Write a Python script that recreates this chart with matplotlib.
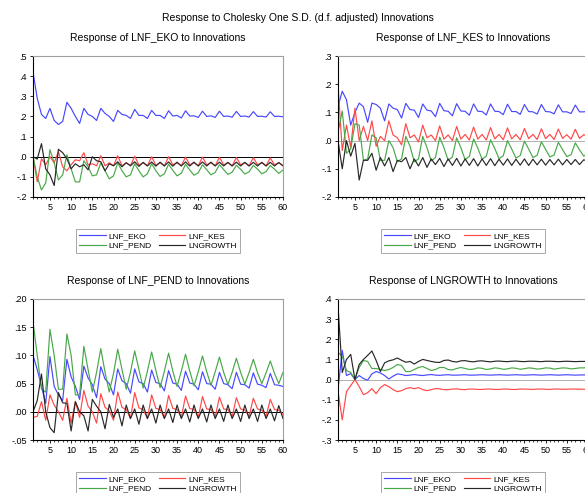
import matplotlib
matplotlib.use("Agg")
import matplotlib.pyplot as plt
import numpy as np

plt.rcParams['font.family'] = ['Liberation Sans', 'DejaVu Sans']

periods = list(range(1, 61))
series_names = ["LNF_EKO", "LNF_KES", "LNF_PEND", "LNGROWTH"]
main_title = "Response to Cholesky One S.D. (d.f. adjusted) Innovations"
panel_titles = ["Response of LNF_EKO to Innovations", "Response of LNF_KES to Innovations",
                "Response of LNF_PEND to Innovations", "Response of LNGROWTH to Innovations"]

# ---- Panel 1: response of LNF_EKO ----
eko_eko = [0.42, 0.29, 0.21, 0.19, 0.24, 0.18, 0.16, 0.175,
           0.27, 0.24, 0.20, 0.165, 0.24, 0.21, 0.20, 0.18,
           0.24, 0.215, 0.20, 0.175, 0.23, 0.21, 0.205, 0.19,
           0.235, 0.205, 0.205, 0.19, 0.23, 0.205, 0.205, 0.19,
           0.228, 0.202, 0.205, 0.192, 0.228, 0.202, 0.203, 0.195,
           0.226, 0.200, 0.203, 0.195, 0.226, 0.200, 0.202, 0.196,
           0.225, 0.200, 0.202, 0.197, 0.224, 0.200, 0.201, 0.197,
           0.223, 0.200, 0.201, 0.198]
eko_kes = [0.0, -0.125, -0.01, -0.04, 0.0, -0.03, 0.025, -0.05,
           -0.07, -0.04, -0.015, -0.02, 0.02, -0.04, -0.035, -0.045,
           0.005, -0.045, -0.03, -0.045, 0.005, -0.045, -0.03, -0.045,
           0.003, -0.042, -0.03, -0.045, 0.0, -0.042, -0.03, -0.045,
           0.0, -0.04, -0.03, -0.045, -0.002, -0.04, -0.03, -0.045,
           -0.002, -0.04, -0.03, -0.045, -0.003, -0.04, -0.03, -0.045,
           -0.004, -0.04, -0.03, -0.045, -0.005, -0.04, -0.03, -0.045,
           -0.006, -0.04, -0.03, -0.045]
eko_pend = [0.0, -0.10, -0.165, -0.13, 0.035, -0.03, -0.115, -0.09,
            0.01, -0.06, -0.125, -0.125, -0.02, -0.05, -0.095, -0.09,
            -0.03, -0.07, -0.11, -0.095, -0.03, -0.07, -0.10, -0.09,
            -0.035, -0.07, -0.10, -0.085, -0.035, -0.07, -0.098, -0.085,
            -0.037, -0.068, -0.095, -0.082, -0.038, -0.066, -0.092, -0.08,
            -0.04, -0.065, -0.09, -0.078, -0.04, -0.064, -0.088, -0.077,
            -0.042, -0.063, -0.086, -0.075, -0.043, -0.062, -0.085, -0.074,
            -0.044, -0.062, -0.083, -0.066]
eko_growth = [0.0, -0.012, 0.065, -0.06, -0.09, -0.143, 0.037, 0.02,
              -0.01, -0.06, -0.035, -0.05, -0.04, -0.065, 0.0, -0.02,
              -0.025, -0.07, -0.035, -0.045, -0.025, -0.05, -0.03, -0.045,
              -0.025, -0.048, -0.028, -0.046, -0.026, -0.047, -0.027, -0.046,
              -0.026, -0.047, -0.027, -0.046, -0.026, -0.046, -0.027, -0.046,
              -0.026, -0.046, -0.027, -0.046, -0.027, -0.046, -0.028, -0.046,
              -0.027, -0.046, -0.028, -0.046, -0.028, -0.046, -0.028, -0.046,
              -0.028, -0.046, -0.029, -0.045]

# ---- Panel 2: response of LNF_KES ----
kes_eko = [0.12, 0.175, 0.145, 0.055, 0.10, 0.133, 0.12, 0.065,
           0.133, 0.128, 0.115, 0.07, 0.13, 0.115, 0.11, 0.08,
           0.132, 0.11, 0.108, 0.082, 0.13, 0.108, 0.105, 0.085,
           0.132, 0.106, 0.104, 0.088, 0.131, 0.105, 0.104, 0.09,
           0.13, 0.104, 0.103, 0.091, 0.13, 0.104, 0.103, 0.092,
           0.129, 0.103, 0.103, 0.093, 0.128, 0.103, 0.102, 0.094,
           0.128, 0.103, 0.102, 0.095, 0.127, 0.102, 0.102, 0.096,
           0.126, 0.102, 0.102, 0.104]
kes_kes = [0.2, -0.035, 0.055, -0.025, 0.115, 0.0, 0.05, 0.0,
           0.07, -0.02, 0.015, 0.0, 0.07, 0.02, 0.01, -0.015,
           0.06, 0.01, 0.02, -0.005, 0.055, 0.01, 0.02, 0.0,
           0.052, 0.005, 0.02, 0.0, 0.05, 0.005, 0.022, 0.002,
           0.048, 0.005, 0.022, 0.002, 0.046, 0.006, 0.022, 0.003,
           0.045, 0.006, 0.022, 0.003, 0.043, 0.007, 0.022, 0.004,
           0.042, 0.007, 0.022, 0.004, 0.041, 0.008, 0.021, 0.005,
           0.04, 0.008, 0.021, 0.015]
kes_pend = [0.03, 0.105, -0.045, -0.03, 0.06, 0.055, -0.07, -0.065,
            0.02, 0.01, -0.07, -0.07, 0.0, -0.025, -0.075, -0.065,
            0.015, -0.02, -0.075, -0.065, 0.015, -0.025, -0.072, -0.06,
            0.012, -0.025, -0.07, -0.058, 0.01, -0.025, -0.068, -0.056,
            0.006, -0.027, -0.066, -0.055, 0.003, -0.028, -0.064, -0.054,
            0.0, -0.03, -0.062, -0.053, -0.002, -0.03, -0.06, -0.052,
            -0.004, -0.031, -0.058, -0.051, -0.006, -0.032, -0.057, -0.05,
            -0.008, -0.033, -0.055, -0.045]
kes_growth = [0.0, -0.1, 0.0, -0.055, -0.01, -0.14, -0.07, -0.07,
              -0.045, -0.105, -0.06, -0.09, -0.06, -0.11, -0.07, -0.075,
              -0.06, -0.1, -0.065, -0.09, -0.06, -0.095, -0.065, -0.085,
              -0.063, -0.092, -0.065, -0.088, -0.063, -0.09, -0.065, -0.088,
              -0.064, -0.09, -0.065, -0.088, -0.064, -0.089, -0.066, -0.087,
              -0.065, -0.088, -0.066, -0.087, -0.065, -0.088, -0.066, -0.086,
              -0.066, -0.087, -0.067, -0.086, -0.066, -0.086, -0.067, -0.085,
              -0.067, -0.085, -0.068, -0.074]

# ---- Panel 3: response of LNF_PEND ----
pend_eko = [0.10, 0.075, 0.045, 0.015, 0.098, 0.045, 0.03, 0.02,
            0.093, 0.062, 0.045, 0.022, 0.081, 0.06, 0.048, 0.025,
            0.08, 0.058, 0.05, 0.03, 0.076, 0.055, 0.05, 0.033,
            0.076, 0.053, 0.05, 0.035, 0.074, 0.052, 0.05, 0.037,
            0.073, 0.051, 0.049, 0.038, 0.072, 0.051, 0.049, 0.039,
            0.071, 0.05, 0.049, 0.04, 0.07, 0.05, 0.048, 0.041,
            0.07, 0.049, 0.048, 0.042, 0.069, 0.049, 0.047, 0.043,
            0.068, 0.048, 0.047, 0.045]
pend_kes = [-0.01, -0.008, 0.018, -0.015, 0.03, 0.012, 0.0, -0.015,
            0.024, -0.02, 0.018, -0.01, 0.038, 0.01, 0.0, -0.02,
            0.032, 0.008, 0.002, -0.015, 0.035, 0.008, 0.004, -0.012,
            0.034, 0.007, 0.004, -0.012, 0.03, 0.006, 0.004, -0.011,
            0.029, 0.006, 0.004, -0.01, 0.028, 0.006, 0.004, -0.01,
            0.027, 0.005, 0.004, -0.009, 0.026, 0.005, 0.004, -0.009,
            0.025, 0.005, 0.003, -0.008, 0.024, 0.005, 0.003, -0.008,
            0.022, 0.004, 0.003, -0.005]
pend_pend = [0.16, 0.10, 0.04, 0.035, 0.146, 0.10, 0.04, 0.04,
             0.138, 0.10, 0.03, 0.03, 0.116, 0.075, 0.035, 0.07,
             0.112, 0.07, 0.035, 0.068, 0.111, 0.075, 0.04, 0.07,
             0.108, 0.075, 0.042, 0.072, 0.106, 0.073, 0.043, 0.072,
             0.104, 0.072, 0.045, 0.072, 0.102, 0.072, 0.046, 0.071,
             0.099, 0.071, 0.047, 0.071, 0.097, 0.07, 0.048, 0.07,
             0.095, 0.07, 0.049, 0.07, 0.093, 0.069, 0.05, 0.069,
             0.09, 0.068, 0.05, 0.07]
pend_growth = [0.0, 0.02, 0.067, 0.0, -0.028, -0.037, 0.034, 0.016,
               0.015, -0.034, 0.018, 0.0, -0.007, -0.034, 0.022, 0.01,
               0.0, -0.03, 0.013, -0.01, 0.005, -0.025, 0.012, -0.012,
               0.005, -0.022, 0.012, -0.012, 0.005, -0.02, 0.012, -0.012,
               0.005, -0.019, 0.012, -0.012, 0.005, -0.018, 0.012, -0.012,
               0.005, -0.018, 0.012, -0.012, 0.005, -0.017, 0.012, -0.012,
               0.005, -0.017, 0.012, -0.012, 0.005, -0.017, 0.012, -0.012,
               0.005, -0.016, 0.011, -0.012]

# ---- Panel 4: response of LNGROWTH ----
gr_eko = [-0.05, 0.145, 0.02, 0.03, 0.0, 0.02, 0.005, -0.003,
          0.028, 0.04, 0.033, 0.02, 0.003, 0.017, 0.028, 0.025,
          0.02, 0.022, 0.025, 0.022, 0.02, 0.023, 0.025, 0.022,
          0.021, 0.023, 0.024, 0.022, 0.022, 0.023, 0.024, 0.022,
          0.022, 0.023, 0.024, 0.023, 0.022, 0.023, 0.024, 0.023,
          0.022, 0.023, 0.024, 0.023, 0.022, 0.023, 0.024, 0.023,
          0.022, 0.023, 0.024, 0.023, 0.022, 0.023, 0.024, 0.023,
          0.022, 0.023, 0.023, 0.023]
gr_kes = [-0.06, -0.2, -0.06, -0.03, 0.0, -0.035, -0.075, -0.065,
          -0.045, -0.07, -0.04, -0.025, -0.035, -0.05, -0.06, -0.055,
          -0.045, -0.04, -0.045, -0.04, -0.05, -0.055, -0.05, -0.045,
          -0.046, -0.05, -0.05, -0.047, -0.046, -0.049, -0.05, -0.047,
          -0.047, -0.049, -0.049, -0.047, -0.047, -0.049, -0.049, -0.047,
          -0.047, -0.049, -0.049, -0.047, -0.047, -0.048, -0.049, -0.047,
          -0.047, -0.048, -0.049, -0.047, -0.047, -0.048, -0.048, -0.047,
          -0.047, -0.048, -0.048, -0.048]
gr_pend = [0.135, 0.115, 0.045, 0.035, 0.0, 0.06, 0.095, 0.09,
           0.055, 0.055, 0.05, 0.045, 0.05, 0.06, 0.075, 0.07,
           0.04, 0.04, 0.05, 0.06, 0.065, 0.055, 0.045, 0.05,
           0.06, 0.06, 0.05, 0.048, 0.055, 0.06, 0.055, 0.05,
           0.052, 0.058, 0.056, 0.05, 0.053, 0.058, 0.056, 0.051,
           0.053, 0.058, 0.056, 0.051, 0.054, 0.058, 0.056, 0.052,
           0.054, 0.058, 0.057, 0.052, 0.055, 0.058, 0.057, 0.053,
           0.055, 0.058, 0.058, 0.06]
gr_growth = [0.365, 0.035, 0.1, 0.125, 0.0, 0.075, 0.1, 0.12,
             0.142, 0.095, 0.04, 0.083, 0.093, 0.098, 0.107, 0.096,
             0.086, 0.09, 0.077, 0.09, 0.1, 0.095, 0.09, 0.086,
             0.085, 0.095, 0.097, 0.09, 0.087, 0.093, 0.094, 0.09,
             0.088, 0.092, 0.093, 0.09, 0.088, 0.091, 0.092, 0.09,
             0.089, 0.091, 0.092, 0.09, 0.089, 0.091, 0.091, 0.09,
             0.089, 0.091, 0.091, 0.09, 0.089, 0.09, 0.091, 0.09,
             0.089, 0.09, 0.09, 0.09]

panels = [
    (eko_eko, eko_kes, eko_pend, eko_growth),
    (kes_eko, kes_kes, kes_pend, kes_growth),
    (pend_eko, pend_kes, pend_pend, pend_growth),
    (gr_eko, gr_kes, gr_pend, gr_growth),
]
y_limits = [(-0.2, 0.5), (-0.2, 0.3), (-0.05, 0.20), (-0.3, 0.4)]
y_ticks = [
    [-0.2, -0.1, 0.0, 0.1, 0.2, 0.3, 0.4, 0.5],
    [-0.2, -0.1, 0.0, 0.1, 0.2, 0.3],
    [-0.05, 0.0, 0.05, 0.10, 0.15, 0.20],
    [-0.3, -0.2, -0.1, 0.0, 0.1, 0.2, 0.3, 0.4],
]
y_ticklabels = [
    ["-.2", "-.1", ".0", ".1", ".2", ".3", ".4", ".5"],
    ["-.2", "-.1", ".0", ".1", ".2", ".3"],
    ["-.05", ".00", ".05", ".10", ".15", ".20"],
    ["-.3", "-.2", "-.1", ".0", ".1", ".2", ".3", ".4"],
]
x_ticks = [5, 10, 15, 20, 25, 30, 35, 40, 45, 50, 55, 60]
zero_colors = ["black", "#b0b0b0", "black", "#b0b0b0"]
colors = ["#4848ff", "#ff4848", "#48a848", "#282828"]

W, H = 585, 493
fig = plt.figure(figsize=(W / 100, H / 100), dpi=100)

# axes placement in pixels (left, top, right, bottom)
boxes = [(33, 56, 283, 197), (338, 56, 588, 197), (33, 299, 283, 440), (338, 299, 588, 440)]

fig.text(298 / W, 1 - 18 / H, main_title, ha="center", va="center", fontsize=7.5)

for i, (box, data) in enumerate(zip(boxes, panels)):
    l, t, r, b = box
    ax = fig.add_axes([l / W, 1 - b / H, (r - l) / W, (b - t) / H])
    ax.axhline(0, color=zero_colors[i], lw=0.7, zorder=1)
    handles = []
    for s, name, c in zip(data, series_names, colors):
        h, = ax.plot(periods, s, color=c, lw=0.85, label=name, zorder=2)
        handles.append(h)
    ax.set_xlim(1, 60)
    ax.set_ylim(*y_limits[i])
    ax.set_yticks(y_ticks[i])
    ax.set_yticklabels(y_ticklabels[i])
    ax.set_xticks(x_ticks)
    ax.set_xticks(periods, minor=True)
    ax.tick_params(axis="both", which="major", labelsize=6.5, length=2.5, width=0.6, pad=2,
                   direction="out", color="black")
    ax.tick_params(axis="x", which="minor", length=1.5, width=0.5, direction="out")
    for side in ["left", "bottom"]:
        ax.spines[side].set_color("black")
        ax.spines[side].set_linewidth(0.8)
    for side in ["top", "right"]:
        ax.spines[side].set_color("#a0a0a0")
        ax.spines[side].set_linewidth(0.8)
    ax.set_title(panel_titles[i], fontsize=7.5, pad=11)
    order = [0, 2, 1, 3]
    leg = ax.legend([handles[k] for k in order], [series_names[k] for k in order],
                    ncol=2, loc="upper center", bbox_to_anchor=(0.5, -0.2),
                    fontsize=6, frameon=True, fancybox=False, handlelength=3.2,
                    handletextpad=0.4, columnspacing=0.8, borderpad=0.35,
                    labelspacing=0.2)
    leg.get_frame().set_edgecolor("#808080")
    leg.get_frame().set_linewidth(0.6)

fig.savefig("out.png", dpi=100)
